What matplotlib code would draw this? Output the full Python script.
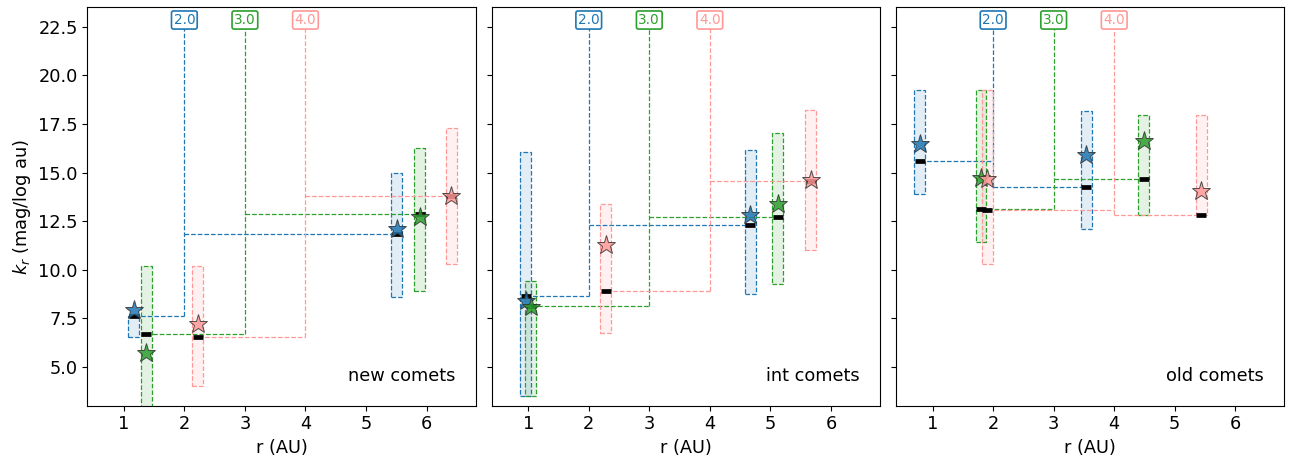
import matplotlib
matplotlib.use("Agg")
import matplotlib.pyplot as plt
from matplotlib.patches import Rectangle

plt.rcParams['font.size'] = 12.8

# split radii (AU) and their colours
thresholds = [2.0, 3.0, 4.0]
colors = ['#1f77b4', '#2ca02c', '#ff9896']
panel_names = ['new comets', 'int comets', 'old comets']

# --- new comets: inner (r < split) and outer (r > split) groups ---
new_r_in = [1.165, 1.373, 2.22]
new_r_out = [5.51, 5.89, 6.41]
new_med_in = [7.61, 6.67, 6.55]
new_med_out = [11.85, 12.89, 13.77]
new_mean_in = [7.92, 5.69, 7.20]
new_mean_out = [12.08, 12.70, 13.77]
new_band_in = [(6.55, 7.61), (2.80, 10.21), (4.02, 10.21)]
new_band_out = [(8.61, 15.00), (8.90, 16.26), (10.29, 17.29)]

# --- intermediate comets ---
int_r_in = [0.96, 1.044, 2.28]
int_r_out = [4.67, 5.12, 5.67]
int_med_in = [8.64, 8.15, 8.92]
int_med_out = [12.32, 12.70, 14.57]
int_mean_in = [8.39, 8.09, 11.27]
int_mean_out = [12.82, 13.39, 14.63]
int_band_in = [(3.50, 16.04), (3.50, 9.42), (6.75, 13.37)]
int_band_out = [(8.73, 16.14), (9.25, 17.03), (11.02, 18.22)]

# --- old comets ---
old_r_in = [0.785, 1.80, 1.90]
old_r_out = [3.54, 4.49, 5.44]
old_med_in = [15.59, 13.11, 13.08]
old_med_out = [14.27, 14.66, 12.82]
old_mean_in = [16.48, 14.71, 14.68]
old_mean_out = [15.88, 16.62, 14.03]
old_band_in = [(13.90, 19.23), (11.41, 19.23), (10.28, 19.23)]
old_band_out = [(12.10, 18.15), (12.82, 17.98), (12.82, 17.98)]

groups = [
    (new_r_in, new_r_out, new_med_in, new_med_out, new_mean_in, new_mean_out, new_band_in, new_band_out),
    (int_r_in, int_r_out, int_med_in, int_med_out, int_mean_in, int_mean_out, int_band_in, int_band_out),
    (old_r_in, old_r_out, old_med_in, old_med_out, old_mean_in, old_mean_out, old_band_in, old_band_out),
]

band_width = 0.18
label_y = 22.85

fig = plt.figure(figsize=(12.96, 4.62), dpi=100)
axes = fig.subplots(1, 3, sharey=True)
fig.subplots_adjust(left=0.0675, right=0.991, bottom=0.122, top=0.984, wspace=0.042)

for ax, name, grp in zip(axes, panel_names, groups):
    r_in, r_out, med_in, med_out, mean_in, mean_out, band_in, band_out = grp
    for k, (thr, col) in enumerate(zip(thresholds, colors)):
        # spread bands
        for x, (lo, hi) in ((r_in[k], band_in[k]), (r_out[k], band_out[k])):
            ax.add_patch(Rectangle((x - band_width / 2, lo), band_width, hi - lo,
                                   facecolor=col, alpha=0.13, edgecolor='none', zorder=1))
            ax.add_patch(Rectangle((x - band_width / 2, lo), band_width, hi - lo,
                                   facecolor='none', edgecolor=col, lw=0.9,
                                   ls='--', zorder=2))
        # step of the median across the split radius
        low = min(med_in[k], med_out[k])
        ax.plot([r_in[k], thr], [med_in[k], med_in[k]], ls='--', lw=0.9, color=col, zorder=2)
        ax.plot([thr, thr], [low, label_y], ls='--', lw=0.9, color=col, zorder=2)
        ax.plot([thr, r_out[k]], [med_out[k], med_out[k]], ls='--', lw=0.9, color=col, zorder=2)
        ax.text(thr, label_y, f'{thr:.1f}', color=col, fontsize=9.8,
                ha='center', va='center', zorder=5,
                bbox=dict(boxstyle='round,pad=0.15', fc='white', ec=col, lw=1.2))
        # medians
        ax.plot([r_in[k], r_out[k]], [med_in[k], med_out[k]], ls='none',
                marker='_', ms=7.7, mew=3.4, color='k', zorder=3)
        # means
        ax.plot([r_in[k], r_out[k]], [mean_in[k], mean_out[k]], ls='none',
                marker='*', ms=14, mfc=col, mec='#333333', mew=0.7,
                alpha=0.85, zorder=4)
    ax.text(0.947, 0.052, name, transform=ax.transAxes, ha='right', va='bottom')
    ax.set_xlim(0.4, 6.81)
    ax.set_ylim(3.0, 23.5)
    ax.set_xticks([1, 2, 3, 4, 5, 6])
    ax.set_xlabel('r (AU)')

axes[0].set_yticks([5.0, 7.5, 10.0, 12.5, 15.0, 17.5, 20.0, 22.5])
axes[0].set_ylabel('$k_r$ (mag/log au)')

fig.savefig('out.png', dpi=100)
